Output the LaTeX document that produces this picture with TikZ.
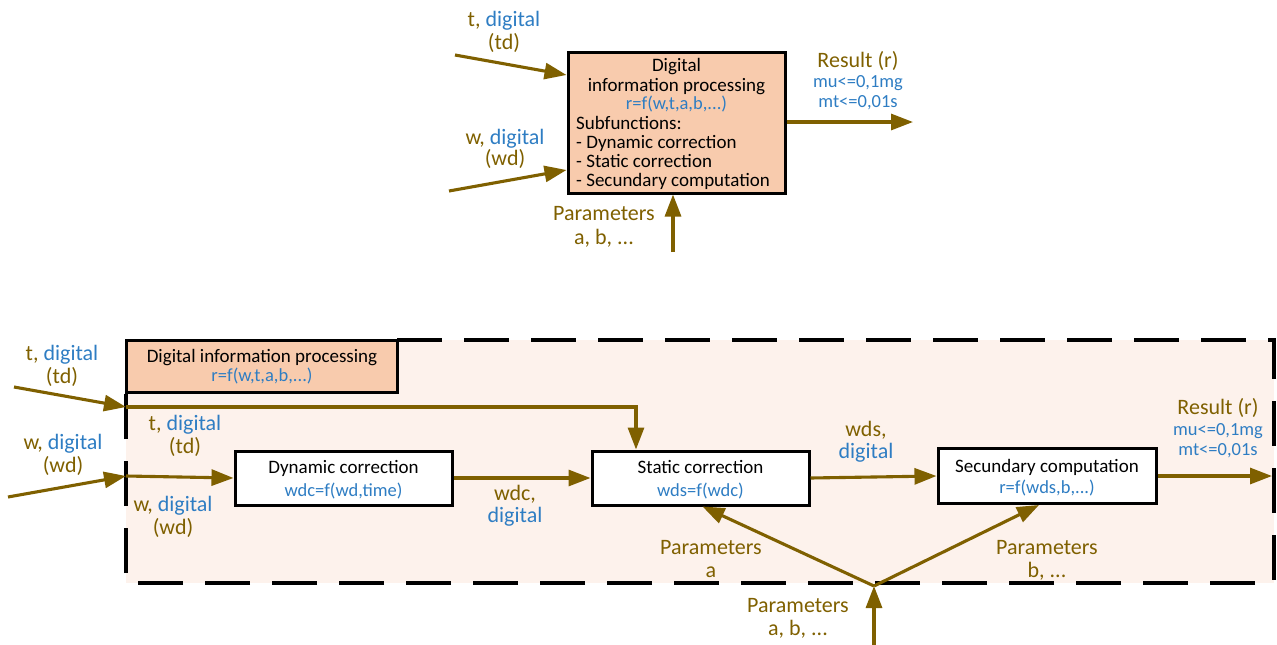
\documentclass[tikz,border=0pt]{standalone}
\usepackage{fontspec}
\setmainfont{Carlito}
\usetikzlibrary{arrows.meta,calc}
\definecolor{brn}{RGB}{127,96,0}
\definecolor{blu}{RGB}{46,125,195}
\definecolor{org}{RGB}{248,203,173}
\definecolor{pale}{RGB}{253,242,236}
\begin{document}
\begin{tikzpicture}[x=1pt,y=-1pt,
  arr/.style={draw=brn,line width=3.1pt,-{Triangle[length=22pt,width=16pt]}},
  box/.style={draw=black,line width=3pt,inner sep=0pt},
  lbl/.style={text=brn,font=\fontsize{22}{22}\selectfont,inner sep=0pt,anchor=base},
  txt/.style={text=black,font=\fontsize{19}{19}\selectfont,inner sep=0pt,anchor=base},
  ftxt/.style={text=blu,font=\fontsize{18.5}{18.5}\selectfont,inner sep=0pt,anchor=base},
]
\useasboundingbox (0,0) rectangle (1277,645);

% ---------------- top part ----------------
\node[box,fill=org,minimum width=217,minimum height=141] (tb) at (676.5,122.5) {};
\node[txt] (tb1) at (676.5,71) {Digital};
\node[txt] (tb2) at (676.5,91) {information processing};
\node[ftxt] (tb3) at (676.5,109) {r=f(w,t,a,b,...)};
\node[txt,anchor=base west] (tb4) at (576,129) {Subfunctions:};
\node[txt,anchor=base west] (tb5) at (576,148) {- Dynamic correction};
\node[txt,anchor=base west] (tb6) at (576,167) {- Static correction};
\node[txt,anchor=base west] (tb7) at (576,186) {- Secundary computation};

\coordinate (tin1) at (455,55);
\coordinate (win1) at (449,191);
\coordinate (rout1) at (913,122);
\coordinate (pin1) at (673,252);
\draw[arr] (tin1) -- (tb.west |- 0,75);
\draw[arr] (win1) -- (tb.west |- 0,170);
\draw[arr] (tb.east |- rout1) -- (rout1);
\draw[arr] (pin1) -- (tb.south -| pin1);

\node[lbl] (tl1a) at (504,27) {t, \textcolor{blu}{digital}};
\node[lbl] (tl1b) at (504,49) {(td)};
\node[lbl] (wl1a) at (505,144) {w, \textcolor{blu}{digital}};
\node[lbl] (wl1b) at (505,165) {(wd)};
\node[lbl] (rl1a) at (858,67) {Result (r)};
\node[ftxt] (rl1b) at (858,87) {mu<=0,1mg};
\node[ftxt] (rl1c) at (858,107) {mt<=0,01s};
\node[lbl] (pl1a) at (604,220) {Parameters};
\node[lbl] (pl1b) at (604,244) {a, b, ...};

% ---------------- bottom part ----------------
\fill[pale] (126,340) rectangle (1274,583);
\draw[black,line width=3.4pt,dash pattern=on 45pt off 22pt] (397,340) -- (1274,340) -- (1274,583) -- (126,583) -- (126,392);

\node[box,fill=org,minimum width=271,minimum height=52] (ob) at (261.5,366) {};
\node[txt] (ob1) at (262,362) {Digital information processing};
\node[ftxt] (ob2) at (262,381) {r=f(w,t,a,b,...)};

\node[box,fill=white,minimum width=217,minimum height=54] (dc) at (343.5,478) {};
\node[txt] (dc1) at (343.5,473) {Dynamic correction};
\node[ftxt] (dc2) at (343.5,496) {wdc=f(wd,time)};

\node[box,fill=white,minimum width=217,minimum height=54] (sc) at (700.5,478) {};
\node[txt] (sc1) at (700.5,473) {Static correction};
\node[ftxt] (sc2) at (700.5,496) {wds=f(wdc)};

\node[box,fill=white,minimum width=218,minimum height=55] (sec) at (1047,476) {};
\node[txt] (sec1) at (1047,472) {Secundary computation};
\node[ftxt] (sec2) at (1047,493) {r=f(wds,b,...)};

\coordinate (tin2) at (14,387);
\coordinate (tj) at (126,407);
\coordinate (tturn) at (636,407);
\coordinate (win2) at (8,497);
\coordinate (wj) at (126,476);
\coordinate (rout2) at (1272,476);
\coordinate (pin2) at (874,648);
\coordinate (ps) at (874,586);

\draw[arr] (tin2) -- (tj);
\draw[arr] (tj) -- (tturn) -- (sc.north -| tturn);
\draw[arr] (win2) -- (wj);
\draw[arr] (wj) -- (dc.west);
\draw[arr] (dc.east) -- (sc.west);
\draw[arr] (sc.east) -- (sec.west);
\draw[arr] (sec.east) -- (rout2);
\draw[arr] (pin2) -- (ps);
\draw[arr] (ps) -- ([xshift=2pt]sc.south);
\draw[arr] (ps) -- ([xshift=-8pt]sec.south);

\node[lbl] (tl2a) at (62,360) {t, \textcolor{blu}{digital}};
\node[lbl] (tl2b) at (62,383) {(td)};
\node[lbl] (tl3a) at (185,430) {t, \textcolor{blu}{digital}};
\node[lbl] (tl3b) at (185,453) {(td)};
\node[lbl] (wl2a) at (63,449) {w, \textcolor{blu}{digital}};
\node[lbl] (wl2b) at (63,472) {(wd)};
\node[lbl] (wl3a) at (173,511) {w, \textcolor{blu}{digital}};
\node[lbl] (wl3b) at (173,534) {(wd)};
\node[lbl] (wdca) at (515,500) {wdc,};
\node[lbl,text=blu] (wdcb) at (515,522) {digital};
\node[lbl] (wdsa) at (866,436) {wds,};
\node[lbl,text=blu] (wdsb) at (866,458) {digital};
\node[lbl] (rl2a) at (1218,414) {Result (r)};
\node[ftxt] (rl2b) at (1218,435) {mu<=0,1mg};
\node[ftxt] (rl2c) at (1218,455) {mt<=0,01s};
\node[lbl] (pa1) at (711,554) {Parameters};
\node[lbl] (pa2) at (711,577) {a};
\node[lbl] (pb1) at (1047,554) {Parameters};
\node[lbl] (pb2) at (1047,577) {b, ...};
\node[lbl] (pc1) at (798,612) {Parameters};
\node[lbl] (pc2) at (798,635) {a, b, ...};
\end{tikzpicture}
\end{document}
